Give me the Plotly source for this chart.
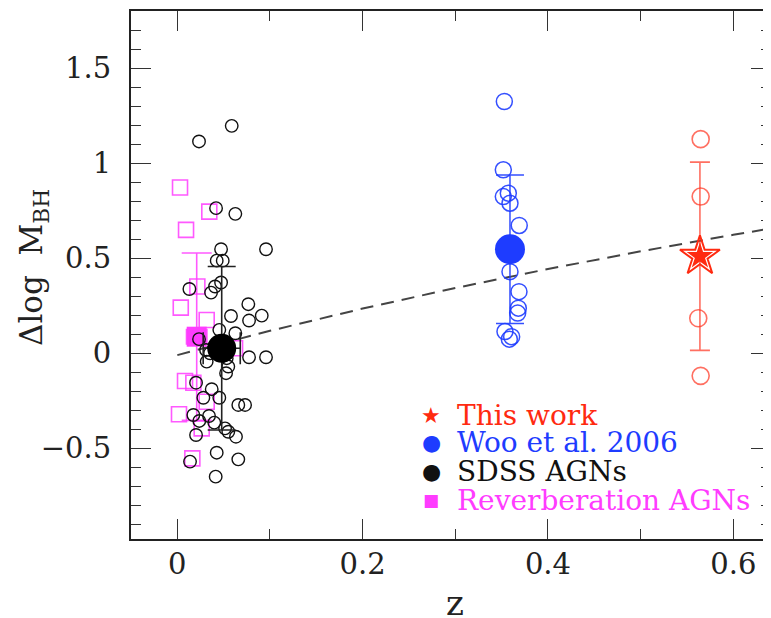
import plotly.graph_objects as go

# ---------------- data ----------------
# SDSS AGNs (open black circles)
sdss_z = [0.0587, 0.0234, 0.0418, 0.0626, 0.0957, 0.0472, 0.0425, 0.0490, 0.0130, 0.0364,
          0.0407, 0.0472, 0.0766, 0.0579, 0.0774, 0.0911, 0.0453, 0.0626, 0.0234, 0.0310,
          0.0774, 0.0957, 0.0317, 0.0550, 0.0526, 0.0202, 0.0371, 0.0281, 0.0453, 0.0658,
          0.0731, 0.0173, 0.0342, 0.0237, 0.0399, 0.0515, 0.0550, 0.0633, 0.0202, 0.0425,
          0.0658, 0.0137, 0.0414, 0.0353, 0.0533]
sdss_d = [1.196, 1.114, 0.763, 0.733, 0.547, 0.547, 0.487, 0.487, 0.338, 0.319,
          0.351, 0.372, 0.258, 0.196, 0.172, 0.198, 0.123, 0.105, 0.074, 0.017,
          -0.021, -0.021, -0.044, -0.070, -0.105, -0.155, -0.189, -0.234, -0.234, -0.272,
          -0.272, -0.325, -0.330, -0.356, -0.365, -0.395, -0.413, -0.439, -0.430, -0.523,
          -0.558, -0.570, -0.649, 0.000, -0.026]
sdss_mean_z, sdss_mean_d = [0.0479], [0.026]
sdss_err_d, sdss_err_z = [0.43], [0.02]

# Reverberation AGNs (open magenta squares)
rev_z = [0.0029, 0.0345, 0.0094, 0.0216, 0.0037, 0.0317, 0.0083, 0.0173, 0.0317, 0.0018,
         0.0263, 0.0162, 0.0623]
rev_d = [0.872, 0.745, 0.649, 0.351, 0.240, 0.175, -0.146, -0.155, -0.255, -0.321,
         -0.395, -0.553, 0.026]
rev_mean_z, rev_mean_d = [0.0209], [0.087]
rev_err_d, rev_err_z = [0.44], [0.011]

# Woo et al. 2006 (open blue circles)
woo_z = [0.3529, 0.3518, 0.3518, 0.3572, 0.3590, 0.3690, 0.3590, 0.3687, 0.3680, 0.3673,
         0.3536, 0.3608, 0.3583]
woo_d = [1.324, 0.965, 0.824, 0.842, 0.789, 0.672, 0.429, 0.324, 0.237, 0.211,
         0.114, 0.087, 0.074]
woo_mean_z, woo_mean_d = [0.359], [0.547]
woo_err_d = [0.39]

# This work (open red circles + star)
tw_z = [0.5648, 0.5648, 0.5622, 0.5648]
tw_d = [1.126, 0.824, 0.184, -0.119]
tw_mean_z, tw_mean_d = [0.564], [0.51]
tw_err_d = [0.495]

# dashed evolution line
line_z = [0.0, 0.1, 0.2, 0.3, 0.4, 0.5, 0.6, 0.65]
line_d = [-0.01, 0.118, 0.235, 0.343, 0.443, 0.536, 0.623, 0.664]

x_ticks = [0, 0.2, 0.4, 0.6]
x_tick_text = ["0", "0.2", "0.4", "0.6"]
y_ticks = [-0.5, 0, 0.5, 1, 1.5]
y_tick_text = ["\u22120.5", "0", "0.5", "1", "1.5"]

legend_names = ["This work", "Woo et al. 2006", "SDSS AGNs", "Reverberation AGNs"]
legend_symbols = ["\u2605", "\u25CF", "\u25CF", "\u25A0"]

# ---------------- styling ----------------
BLACK = "#111111"
MAG = "#ff3cff"
MAG_L = "rgba(255,60,255,0.85)"
BLUE = "#1e3cff"
BLUE_L = "rgba(30,60,255,0.9)"
RED = "#ff2a10"
RED_L = "rgba(255,50,30,0.7)"
legend_colors = [RED, BLUE, BLACK, MAG]
FONT = "DejaVu Serif"

fig = go.Figure()

fig.add_trace(go.Scatter(x=line_z, y=line_d, mode="lines",
                         line=dict(color="#444444", width=2, dash="13px,8px"),
                         hoverinfo="skip"))

fig.add_trace(go.Scatter(x=rev_z, y=rev_d, mode="markers",
                         marker=dict(symbol="square-open", size=15, color=MAG_L,
                                     line=dict(width=1.6, color=MAG_L))))
fig.add_trace(go.Scatter(x=rev_mean_z, y=rev_mean_d, mode="markers",
                         marker=dict(symbol="square", size=20, color=MAG),
                         error_y=dict(type="data", array=rev_err_d, width=15,
                                      thickness=1.6, color=MAG_L),
                         error_x=dict(type="data", array=rev_err_z, width=8,
                                      thickness=1.6, color=MAG_L)))

fig.add_trace(go.Scatter(x=sdss_z, y=sdss_d, mode="markers",
                         marker=dict(symbol="circle-open", size=12.5, color=BLACK,
                                     line=dict(width=1.4, color=BLACK))))
fig.add_trace(go.Scatter(x=sdss_mean_z, y=sdss_mean_d, mode="markers",
                         marker=dict(symbol="circle", size=29, color="#000000"),
                         error_y=dict(type="data", array=sdss_err_d, width=14,
                                      thickness=1.6, color="#222222"),
                         error_x=dict(type="data", array=sdss_err_z, width=16,
                                      thickness=1.6, color="#222222")))

fig.add_trace(go.Scatter(x=woo_z, y=woo_d, mode="markers",
                         marker=dict(symbol="circle-open", size=16, color=BLUE_L,
                                     line=dict(width=1.5, color=BLUE_L))))
fig.add_trace(go.Scatter(x=woo_mean_z, y=woo_mean_d, mode="markers",
                         marker=dict(symbol="circle", size=30, color=BLUE),
                         error_y=dict(type="data", array=woo_err_d, width=14,
                                      thickness=1.5, color=BLUE_L)))

fig.add_trace(go.Scatter(x=tw_z, y=tw_d, mode="markers",
                         marker=dict(symbol="circle-open", size=17, color=RED_L,
                                     line=dict(width=1.6, color=RED_L))))
fig.add_trace(go.Scatter(x=tw_mean_z, y=tw_mean_d, mode="markers",
                         marker=dict(symbol="star-open", size=30, color=RED,
                                     line=dict(width=2, color=RED)),
                         error_y=dict(type="data", array=tw_err_d, width=10,
                                      thickness=1.6, color=RED_L)))
fig.add_trace(go.Scatter(x=tw_mean_z, y=tw_mean_d, mode="markers",
                         marker=dict(symbol="star", size=20, color=RED)))

# legend drawn as text
leg_y = [-0.325, -0.472, -0.624, -0.772]
sym_sizes = [22, 22, 22, 17]
for name, sym, col, yy, ss in zip(legend_names, legend_symbols, legend_colors, leg_y, sym_sizes):
    fig.add_annotation(x=0.274, y=yy, xref="x", yref="y", text=sym, showarrow=False,
                       xanchor="center", yanchor="middle",
                       font=dict(family="DejaVu Sans", size=ss, color=col))
    fig.add_annotation(x=0.300, y=yy, xref="x", yref="y", text=name, showarrow=False,
                       xanchor="left", yanchor="middle",
                       font=dict(family=FONT, size=28, color=col))

# axis titles (paper coords: plot area spans 640 x 528 px)
fig.add_annotation(x=(33 - 131) / 640, y=(539 - 268) / 528, xref="paper", yref="paper",
                   text="\u0394log  M<sub>BH</sub>", textangle=-90, showarrow=False,
                   xanchor="center", yanchor="middle",
                   font=dict(family=FONT, size=31, color="#222222"))
fig.add_annotation(x=(455 - 131) / 640, y=(539 - 603) / 528, xref="paper", yref="paper",
                   text="z", showarrow=False, xanchor="center", yanchor="middle",
                   font=dict(family=FONT, size=34, color="#222222"))

axis_common = dict(showgrid=False, zeroline=False, showline=True, linewidth=2,
                   linecolor="#222222", mirror="ticks", ticks="inside", ticklen=20,
                   tickwidth=1.3, tickcolor="#333333", automargin=False,
                   tickfont=dict(family=FONT, size=29, color="#222222"))

# the page body adds an 8 px offset, so margins are reduced by 8 px on left/top
fig.update_layout(
    width=771, height=618,
    margin=dict(l=123, r=8, t=3, b=87),
    paper_bgcolor="white", plot_bgcolor="white",
    showlegend=False,
    xaxis=dict(range=[-0.05, 0.6407], tickvals=x_ticks, ticktext=x_tick_text,
               ticklabelstandoff=-2,
               minor=dict(ticks="inside", ticklen=10, dtick=0.1, tick0=0,
                          tickcolor="#333333", tickwidth=1.3),
               **axis_common),
    yaxis=dict(range=[-0.977, 1.8], tickvals=y_ticks, ticktext=y_tick_text,
               ticklabelstandoff=12,
               minor=dict(ticks="inside", ticklen=10, dtick=0.1, tick0=0,
                          tickcolor="#333333", tickwidth=1.3),
               **axis_common),
)

fig.write_html("out.html")
